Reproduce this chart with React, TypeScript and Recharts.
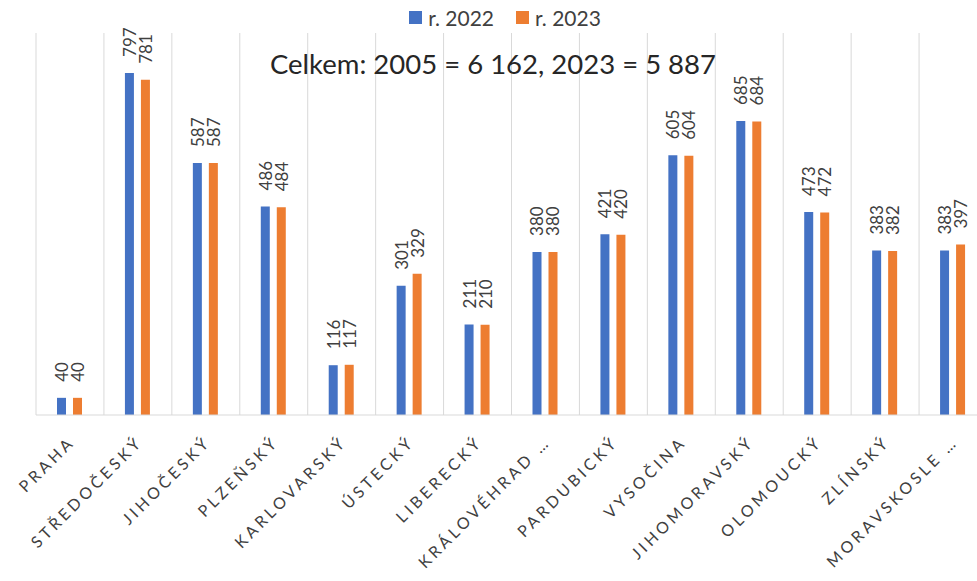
import { BarChart, Bar, XAxis, YAxis, CartesianGrid, Legend } from "recharts";

const regions = [
  "PRAHA",
  "STŘEDOČESKÝ",
  "JIHOČESKÝ",
  "PLZEŇSKÝ",
  "KARLOVARSKÝ",
  "ÚSTECKÝ",
  "LIBERECKÝ",
  "KRÁLOVÉHRAD …",
  "PARDUBICKÝ",
  "VYSOČINA",
  "JIHOMORAVSKÝ",
  "OLOMOUCKÝ",
  "ZLÍNSKÝ",
  "MORAVSKOSLE …",
];
const values2022 = [40, 797, 587, 486, 116, 301, 211, 380, 421, 605, 685, 473, 383, 383];
const values2023 = [40, 781, 587, 484, 117, 329, 210, 380, 420, 604, 684, 472, 382, 397];
const title = "Celkem: 2005 = 6 162, 2023 = 5 887";

const BLUE = "#4472C4";
const ORANGE = "#ED7D31";
const GRID = "#D9D9D9";
const TEXT = "#404040";
const FONT = "Lato, 'Open Sans', sans-serif";

const data = regions.map((name, i) => ({
  name,
  y2022: values2022[i],
  y2023: values2023[i],
}));

// rotated value label sitting above its own bar
function ValueLabel(props: any) {
  const { x, y, width, value } = props;
  const cx = x + width / 2;
  const cy = y - 16;
  return (
    <text
      x={cx}
      y={cy}
      transform={`rotate(-90, ${cx}, ${cy})`}
      textAnchor="start"
      dominantBaseline="central"
      fontSize={17}
      fontFamily={FONT}
      fill={TEXT}
    >
      {value}
    </text>
  );
}

function RegionTick(props: any) {
  const { x, y, payload } = props;
  return (
    <g transform={`translate(${x + 6},${y + 20})`}>
      <text
        x={0}
        y={0}
        textAnchor="end"
        transform="rotate(-45)"
        fontSize={16}
        letterSpacing={3.5}
        fontFamily={FONT}
        fill={TEXT}
      >
        {payload.value}
      </text>
    </g>
  );
}

function LegendContent() {
  const items = [
    { label: "r. 2022", color: BLUE },
    { label: "r. 2023", color: ORANGE },
  ];
  return (
    <div style={{ display: "flex", justifyContent: "center", gap: 22, fontFamily: FONT, fontSize: 21, color: TEXT }}>
      {items.map((it) => (
        <div key={it.label} style={{ display: "flex", alignItems: "center", gap: 6 }}>
          <span style={{ width: 13, height: 13, background: it.color, display: "inline-block" }} />
          <span>{it.label}</span>
        </div>
      ))}
    </div>
  );
}

export default function App() {
  return (
    <div
      style={{
        position: "fixed",
        left: 0,
        top: 0,
        width: 977,
        height: 581,
        overflow: "hidden",
        background: "#fff",
      }}
    >
      <BarChart
        width={1000}
        height={581}
        data={data}
        margin={{ top: 8, right: 13, left: 36, bottom: 16 }}
        barSize={9}
        barGap={7}
      >
        <CartesianGrid
          horizontal={false}
          stroke={GRID}
          verticalCoordinatesGenerator={({ offset }: any) =>
            regions.map((_, i) => offset.left + (i * offset.width) / regions.length)
          }
        />
        <XAxis
          dataKey="name"
          interval={0}
          height={150}
          axisLine={{ stroke: GRID }}
          tickLine={false}
          tick={<RegionTick />}
        />
        <YAxis hide width={0} domain={[0, 890]} />
        <Legend
          verticalAlign="top"
          content={<LegendContent />}
          wrapperStyle={{ position: "absolute", top: 5, left: 0, width: 1010 }}
        />
        <Bar dataKey="y2022" fill={BLUE} isAnimationActive={false} label={<ValueLabel />} />
        <Bar dataKey="y2023" fill={ORANGE} isAnimationActive={false} label={<ValueLabel />} />
      </BarChart>
      <div
        style={{
          position: "absolute",
          left: 0,
          width: 986,
          top: 47,
          textAlign: "center",
          fontFamily: FONT,
          fontSize: 27.5,
          color: "#262626",
        }}
      >
        {title}
      </div>
    </div>
  );
}
